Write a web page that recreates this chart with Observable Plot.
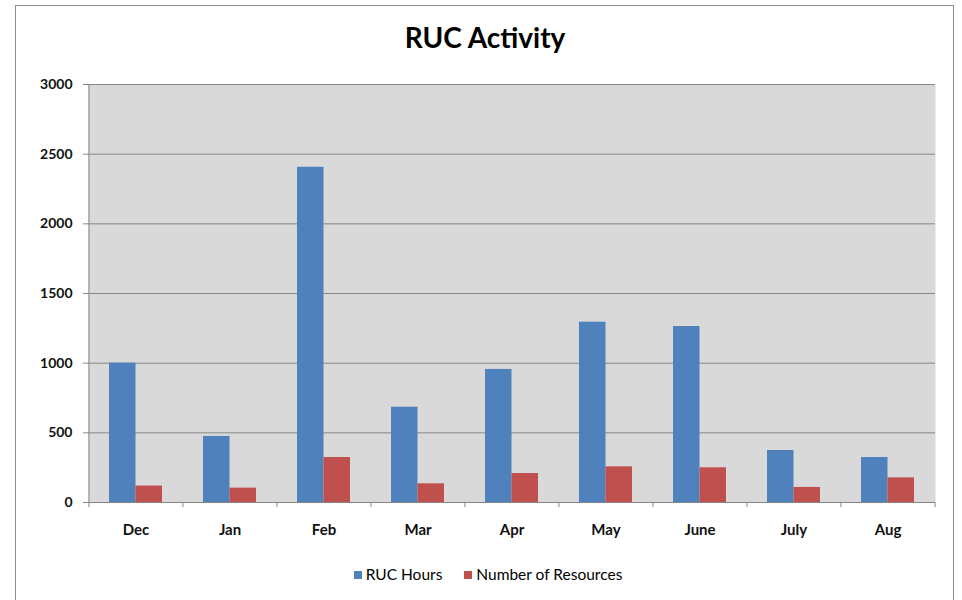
<!DOCTYPE html>
<html>
<head>
<meta charset="utf-8">
<script src="https://cdn.jsdelivr.net/npm/d3@7"></script>
<script src="https://cdn.jsdelivr.net/npm/@observablehq/plot@0.6"></script>
<style>
  html, body { margin: 0; padding: 0; background: #fff; }
  body { width: 962px; height: 600px; position: relative; overflow: hidden; font-family: Lato, "Open Sans", sans-serif; }
  #border { position: absolute; left: 15px; top: 5px; width: 939px; height: 620px; border: 1px solid #8c8c8c; box-sizing: border-box; }
  #title { position: absolute; left: 0; width: 970px; top: 20px; text-align: center; font-size: 28px; font-weight: bold; color: #000; }
  #chart { position: absolute; left: 0; top: 60px; }
  #legend { position: absolute; left: 0; width: 976px; top: 565px; text-align: center; font-size: 15.5px; color: #000; }
  .sw { display: inline-block; width: 8px; height: 8px; margin-right: 4px; vertical-align: 1px; }
  .item { display: inline-block; margin: 0 11px; }
</style>
</head>
<body>
<div id="border"></div>
<div id="title">RUC Activity</div>
<div id="chart"></div>
<div id="legend"></div>
<script>
const months = ["Dec", "Jan", "Feb", "Mar", "Apr", "May", "June", "July", "Aug"];
const rucHours = [1000, 474, 2406, 684, 955, 1294, 1263, 373, 323];
const resources = [118, 103, 323, 134, 208, 256, 249, 108, 177];
const yTicks = [0, 500, 1000, 1500, 2000, 2500, 3000];
const seriesNames = ["RUC Hours", "Number of Resources"];
const seriesColors = ["#4F81BD", "#C0504D"];

const data = months.map((m, i) => ({month: m, hours: rucHours[i], res: resources[i]}));

const W = 962, H = 500, mL = 88, mR = 27, mT = 24, mB = 58;
const step = (W - mL - mR) / months.length;
const pInner = 0.437;
const bw = step * (1 - pInner);
const grid = "#868686";

const chart = Plot.plot({
  width: W, height: H,
  marginLeft: mL, marginRight: mR, marginTop: mT, marginBottom: mB,
  style: {fontFamily: "Lato, 'Open Sans', sans-serif", fontSize: "15px", fontWeight: "bold", color: "#111", background: "transparent"},
  x: {domain: months, paddingInner: pInner, paddingOuter: pInner / 2, label: null},
  y: {domain: [0, 3000], label: null},
  marks: [
    Plot.frame({fill: "#D9D9D9", stroke: "none"}),
    Plot.ruleY(yTicks.filter(t => t > 0), {stroke: grid, strokeWidth: 1}),
    Plot.barY(data, {x: "month", y: "hours", fill: seriesColors[0], insetRight: bw / 2}),
    Plot.barY(data, {x: "month", y: "res", fill: seriesColors[1], insetLeft: bw / 2}),
    Plot.ruleY([0], {stroke: grid}),
    Plot.ruleX([months[0]], {dx: -step / 2, y1: -36, y2: 3000, stroke: grid}),
    Plot.ruleX(months.slice(1), {dx: -step / 2, y1: -36, y2: 0, stroke: grid}),
    Plot.ruleX([months[months.length - 1]], {dx: step / 2, y1: -36, y2: 0, stroke: grid}),
    Plot.axisY(yTicks, {tickSize: 5, tickPadding: 11, stroke: grid, fill: "#111", tickFormat: d3.format("d"), fontSize: 14}),
    Plot.axisX({tickSize: 0, tickPadding: 22, fill: "#111", fontSize: 15})
  ]
});
document.getElementById("chart").appendChild(chart);

const legend = document.getElementById("legend");
seriesNames.forEach((name, i) => {
  const item = document.createElement("span");
  item.className = "item";
  const sw = document.createElement("span");
  sw.className = "sw";
  sw.style.background = seriesColors[i];
  item.appendChild(sw);
  item.appendChild(document.createTextNode(name));
  legend.appendChild(item);
});
</script>
</body>
</html>
